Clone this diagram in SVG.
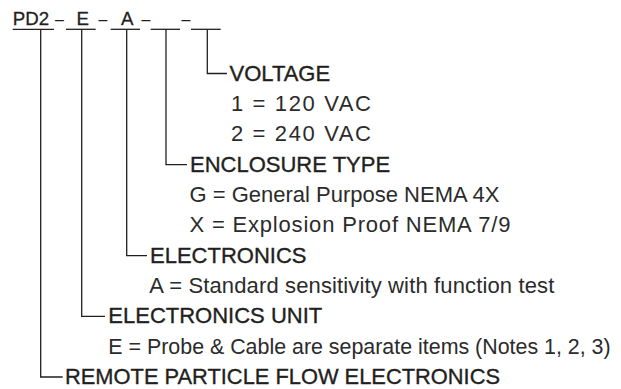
<svg xmlns="http://www.w3.org/2000/svg" width="621" height="389" viewBox="0 0 621 389">
  <style>
    .code { font-family: "Liberation Sans", Arial, sans-serif; font-size: 18.7px; fill: #231f20; stroke: #231f20; stroke-width: 0.3px; }
    .dash { font-family: "Liberation Sans", Arial, sans-serif; font-size: 16px; fill: #231f20; }
    .head { font-family: "Liberation Sans", Arial, sans-serif; font-size: 22px; fill: #231f20; stroke: #231f20; stroke-width: 0.35px; }
    .val { font-family: "Liberation Sans", Arial, sans-serif; font-size: 22px; fill: #2b2b2b; }
    .ln { fill: none; stroke: #231f20; stroke-width: 1.3; }
  </style>
  <rect width="621" height="389" fill="#ffffff"/>

  <g id="model-code">
    <text class="code" x="12.7" y="25">PD2</text>
    <text class="dash" x="55" y="25">–</text>
    <text class="code" x="76.5" y="25">E</text>
    <text class="dash" x="98.5" y="25">–</text>
    <text class="code" x="121" y="25">A</text>
    <text class="dash" x="141.5" y="25">–</text>
    <text class="dash" x="181.5" y="25">–</text>
    <line class="ln" x1="12.7" y1="29.3" x2="54" y2="29.3"/>
    <line class="ln" x1="66" y1="29.3" x2="95.7" y2="29.3"/>
    <line class="ln" x1="110.7" y1="29.3" x2="140" y2="29.3"/>
    <line class="ln" x1="150.7" y1="29.3" x2="180" y2="29.3"/>
    <line class="ln" x1="191" y1="29.3" x2="220.7" y2="29.3"/>
  </g>

  <g id="connectors">
    <polyline class="ln" points="207.3,29.3 207.3,73.5 227,73.5"/>
    <polyline class="ln" points="166,29.3 166,164.6 187,164.6"/>
    <polyline class="ln" points="126.7,29.3 126.7,255.6 147,255.6"/>
    <polyline class="ln" points="81.7,29.3 81.7,316.3 105,316.3"/>
    <polyline class="ln" points="40.7,29.3 40.7,377 62.7,377"/>
  </g>

  <g id="voltage">
    <text class="head" x="229.5" y="80.5">VOLTAGE</text>
    <text class="val" x="231" y="110.9" textLength="140" lengthAdjust="spacing">1 = 120 VAC</text>
    <text class="val" x="231" y="141.2" textLength="140" lengthAdjust="spacing">2 = 240 VAC</text>
  </g>

  <g id="enclosure-type">
    <text class="head" x="190" y="171.6">ENCLOSURE TYPE</text>
    <text class="val" x="189.5" y="201.9">G = General Purpose NEMA 4X</text>
    <text class="val" x="189.5" y="232.3" textLength="321" lengthAdjust="spacing">X = Explosion Proof NEMA 7/9</text>
  </g>

  <g id="electronics">
    <text class="head" x="150" y="262.6">ELECTRONICS</text>
    <text class="val" x="149.3" y="293" textLength="405" lengthAdjust="spacing">A = Standard sensitivity with function test</text>
  </g>

  <g id="electronics-unit">
    <text class="head" x="108.3" y="323.3">ELECTRONICS UNIT</text>
    <text class="val" x="108.3" y="353.7" style="font-size:21.4px">E = Probe &amp; Cable are separate items (Notes 1, 2, 3)</text>
  </g>

  <g id="remote-particle-flow-electronics">
    <text class="head" x="65" y="384" textLength="435" lengthAdjust="spacingAndGlyphs">REMOTE PARTICLE FLOW ELECTRONICS</text>
  </g>
</svg>
